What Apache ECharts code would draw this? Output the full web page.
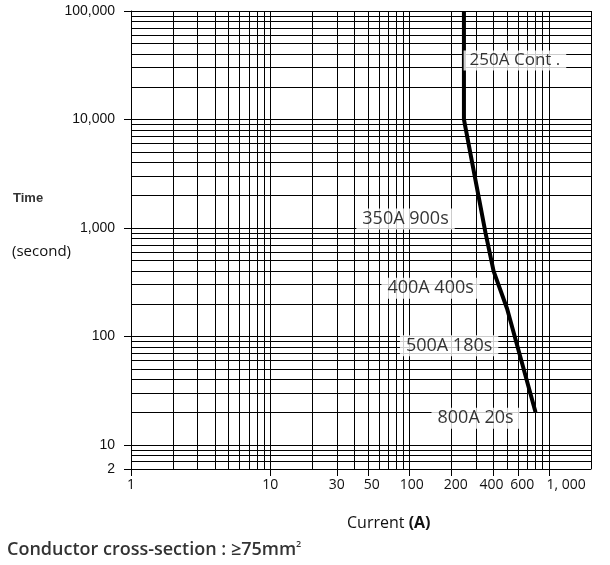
<!DOCTYPE html>
<html>
<head>
<meta charset="utf-8">
<script src="https://cdn.jsdelivr.net/npm/echarts@6/dist/echarts.min.js"></script>
<style>
html,body{margin:0;padding:0;background:#fff;}
#c{width:610px;height:565px;}
</style>
</head>
<body>
<div id="c"></div>
<script>
// ---- data ----
const curveCurrent = [245, 245, 350, 400, 500, 800];
const curveTime = [100000, 10000, 900, 400, 180, 20];
const noteTexts = ['', '250A Cont .', '350A 900s', '400A 400s', '500A 180s', '800A 20s'];

const xTickValues = [1, 10, 30, 50, 100, 200, 400, 600, 1000];
const xTickLabels = ['1', '10', '30', '50', '100', '200', '400', '600', '1, 000'];
const Y_MIN = 6, Y_MAX = 100000, X_MIN = 1, X_MAX = 2000;
const yTickValues = [Y_MIN, 10, 100, 1000, 10000, 100000];
const yTickLabels = ['2', '10', '100', '1,000', '10,000', '100,000'];

// ---- layout (not data) ----
const noteOffsets = [null, [51, -59], [-80, -14], [-63, 17], [-58, 37], [-60, 6]];
const xLabelShift = [0, 0, 0, 4, 2, 4, -2, 4, 17];

function gridValues(lo, hi) {
  const out = [];
  for (let d = 1; d <= 100000; d *= 10) {
    for (let m = 1; m <= 9; m++) {
      const v = d * m;
      if (v >= lo && v <= hi) out.push(v);
    }
  }
  if (out.indexOf(hi) < 0) out.push(hi);
  return out;
}
function indexOfValue(values, v) {
  return values.findIndex(t => Math.abs(t - v) / t < 1e-6);
}

const chart = echarts.init(document.getElementById('c'), null, {renderer: 'canvas'});
const gridLineStyle = {color: '#000', width: 1, type: 'solid'};
const markData = [];
gridValues(X_MIN, X_MAX).forEach(v => markData.push({xAxis: v}));
gridValues(Y_MIN, Y_MAX).concat([Y_MIN]).forEach(v => markData.push({yAxis: v}));

const curveData = curveCurrent.map((c, i) => [c, curveTime[i]]);
const noteData = [];
curveData.forEach((p, i) => {
  if (!noteTexts[i]) return;
  noteData.push({
    value: p,
    label: {formatter: noteTexts[i], offset: noteOffsets[i], fontSize: i === 1 ? 17 : 18}
  });
});

const xRich = {};
xTickValues.forEach((v, i) => {
  const s = xLabelShift[i];
  xRich['s' + i] = {
    fontFamily: 'Open Sans', fontSize: 14, color: '#111',
    padding: s >= 0 ? [0, 0, 0, 2 * s] : [0, -2 * s, 0, 0]
  };
});

chart.setOption({
  animation: false,
  grid: {left: 131, right: 19, top: 11, bottom: 96},
  xAxis: {
    type: 'log', logBase: 10, min: X_MIN, max: X_MAX,
    axisLine: {show: true, lineStyle: {color: '#000', width: 1}},
    axisTick: {show: true, customValues: xTickValues, length: 7, inside: false, lineStyle: {color: '#000'}},
    axisLabel: {
      customValues: xTickValues, margin: 9,
      fontFamily: 'Open Sans', fontSize: 14, color: '#111',
      formatter: function (v) {
        const i = indexOfValue(xTickValues, v);
        return i >= 0 ? '{s' + i + '|' + xTickLabels[i] + '}' : '';
      },
      rich: xRich
    },
    splitLine: {show: false}, minorSplitLine: {show: false}
  },
  yAxis: {
    type: 'log', logBase: 10, min: Y_MIN, max: Y_MAX,
    axisLine: {show: true, lineStyle: {color: '#000', width: 1}},
    axisTick: {show: true, customValues: yTickValues, length: 7, lineStyle: {color: '#000'}},
    axisLabel: {
      customValues: yTickValues, margin: 16,
      fontFamily: 'Liberation Sans', fontSize: 14, color: '#111',
      formatter: function (v) {
        const i = indexOfValue(yTickValues, v);
        return i >= 0 ? yTickLabels[i] : '';
      }
    },
    splitLine: {show: false}
  },
  series: [
    {
      type: 'line', data: [], z: 1, silent: true,
      markLine: {
        silent: true, symbol: ['none', 'none'], z: 1,
        label: {show: false}, lineStyle: gridLineStyle,
        emphasis: {disabled: true},
        data: markData
      }
    },
    {
      type: 'line', data: curveData, z: 10, showSymbol: false, symbol: 'none',
      lineStyle: {color: '#000', width: 4}, silent: true
    },
    {
      type: 'scatter', data: noteData, z: 20, symbolSize: 0, silent: true,
      label: {
        show: true, position: 'inside',
        fontFamily: 'Open Sans', fontSize: 18, color: '#000',
        backgroundColor: '#fff', padding: [2, 6, 1, 6]
      }
    }
  ],
  graphic: [
    {type: 'text', left: 13, top: 192, style: {text: 'Time', fontFamily: 'Liberation Sans', fontSize: 13, fontWeight: 'bold', fill: '#333'}},
    {type: 'text', left: 12, top: 244, style: {text: '(second)', fontFamily: 'Open Sans', fontSize: 15, fill: '#111'}},
    {type: 'text', left: 347, top: 515, style: {
      text: '{n|Current }{b|(A)}',
      rich: {n: {fontFamily: 'Open Sans', fontSize: 16, fill: '#111'}, b: {fontFamily: 'Open Sans', fontSize: 16, fontWeight: 'bold', fill: '#111'}}
    }},
    {type: 'text', left: 7, top: 540, style: {
      text: '{a|Conductor cross-section : \u226575mm}{s|2}',
      rich: {
        a: {fontFamily: 'Open Sans', fontSize: 18, fontWeight: 600, fill: '#333'},
        s: {fontFamily: 'Open Sans', fontSize: 9, fontWeight: 600, fill: '#333', verticalAlign: 'top', padding: [0, 0, 10, 0]}
      }
    }}
  ]
});
</script>
</body>
</html>
